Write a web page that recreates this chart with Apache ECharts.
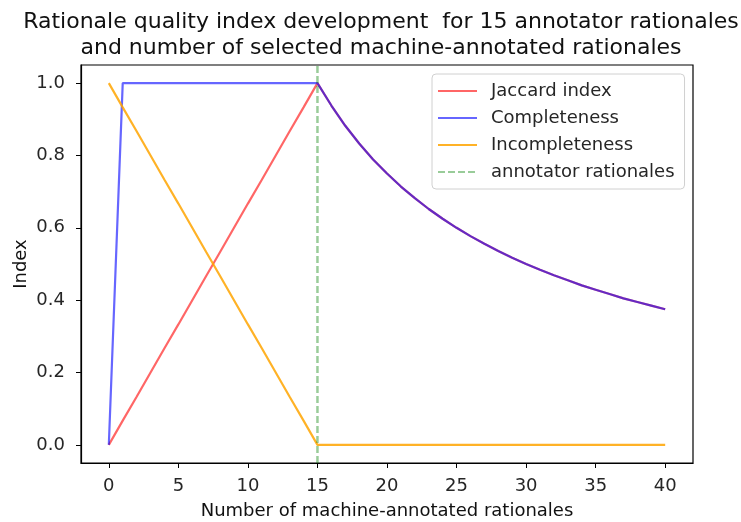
<!DOCTYPE html>
<html>
<head>
<meta charset="utf-8">
<script src="https://cdn.jsdelivr.net/npm/echarts@6/dist/echarts.min.js"></script>
<style>html,body{margin:0;padding:0;background:#fff}#c{width:741px;height:522px}</style>
</head>
<body>
<div id="c"></div>
<script>
var xValues = [0,1,2,3,4,5,6,7,8,9,10,11,12,13,14,15,16,17,18,19,20,21,22,23,24,25,26,27,28,29,30,31,32,33,34,35,36,37,38,39,40];
var jaccard = [0,0.067,0.133,0.2,0.267,0.333,0.4,0.467,0.533,0.6,0.667,0.733,0.8,0.867,0.933,1.0,
  0.938,0.882,0.833,0.789,0.75,0.714,0.682,0.652,0.625,0.6,0.577,0.556,0.536,0.517,0.5,0.484,0.469,0.455,0.441,0.429,0.417,0.405,0.395,0.385,0.375];
var completeness = [0,1,1,1,1,1,1,1,1,1,1,1,1,1,1,1,
  0.938,0.882,0.833,0.789,0.75,0.714,0.682,0.652,0.625,0.6,0.577,0.556,0.536,0.517,0.5,0.484,0.469,0.455,0.441,0.429,0.417,0.405,0.395,0.385,0.375];
var incompleteness = [1,0.933,0.867,0.8,0.733,0.667,0.6,0.533,0.467,0.4,0.333,0.267,0.2,0.133,0.067,0,
  0,0,0,0,0,0,0,0,0,0,0,0,0,0,0,0,0,0,0,0,0,0,0,0,0];
var annotatorCount = 15;
var xTicks = [0,5,10,15,20,25,30,35,40];
var yTicks = [0,0.2,0.4,0.6,0.8,1.0];
var seriesNames = ['Jaccard index','Completeness','Incompleteness','annotator rationales'];
var titleText = 'Rationale quality index development  for 15 annotator rationales\nand number of selected machine-annotated rationales';
var xName = 'Number of machine-annotated rationales';
var yName = 'Index';

function pairs(xs, ys){ return xs.map(function(x,i){ return [x, ys[i]]; }); }

var chart = echarts.init(document.getElementById('c'));
var font = 'DejaVu Sans';
var lineSeries = function(name, data, color){
  return {name:name, type:'line', data:pairs(xValues,data), showSymbol:false, symbol:'none',
    lineStyle:{color:color, width:2.2}, itemStyle:{color:color}, animation:false, z:2};
};
chart.setOption({
  animation:false,
  title:{text:titleText, left:376, top:4, textAlign:'center',
    textStyle:{fontFamily:font, fontSize:22, fontWeight:'normal', color:'#111', lineHeight:26}},
  grid:{left:81, top:65, right:48, bottom:59, show:true, borderColor:'#000', borderWidth:1.2, backgroundColor:'transparent',
    outerBoundsMode:'none', containLabel:false},
  legend:{orient:'vertical', left:432, top:74, itemWidth:39, itemHeight:18, itemGap:9,
    padding:[8,10,8,5], borderColor:'#d0d0d0', borderWidth:1, borderRadius:4,
    itemStyle:{opacity:0},
    textStyle:{fontFamily:font, fontSize:18, color:'#262626', padding:[0,0,0,9]},
    data:seriesNames},
  xAxis:{type:'value', min:-2, max:42, name:xName, nameLocation:'middle', nameGap:39, nameMoveOverlap:false,
    nameTextStyle:{fontFamily:font, fontSize:18, color:'#111'},
    axisLine:{onZero:false, lineStyle:{color:'#000', width:1.2}},
    axisTick:{show:true, length:5, lineStyle:{color:'#000'}, customValues:xTicks},
    axisLabel:{fontFamily:font, fontSize:18, color:'#262626', margin:14, customValues:xTicks},
    splitLine:{show:false}},
  yAxis:{type:'value', min:-0.05, max:1.05, name:yName, nameLocation:'middle', nameGap:51, nameRotate:90, nameMoveOverlap:false,
    nameTextStyle:{fontFamily:font, fontSize:18, color:'#111'},
    axisLine:{show:true, onZero:false, lineStyle:{color:'#000', width:1.2}},
    axisTick:{show:true, length:5, lineStyle:{color:'#000'}, customValues:yTicks},
    axisLabel:{fontFamily:font, fontSize:18, color:'#262626', margin:16, customValues:yTicks,
      formatter:function(v){ return v.toFixed(1); }},
    splitLine:{show:false}},
  series:[
    lineSeries(seriesNames[0], jaccard, 'rgba(255,0,0,0.6)'),
    lineSeries(seriesNames[1], completeness, 'rgba(0,0,255,0.6)'),
    lineSeries(seriesNames[2], incompleteness, 'rgba(255,165,0,0.85)'),
    {name:seriesNames[3], type:'line', data:[[annotatorCount,-0.05],[annotatorCount,1.05]], showSymbol:false, symbol:'none',
      lineStyle:{color:'rgba(0,128,0,0.4)', width:2.5, type:[7,3]}, itemStyle:{color:'rgba(0,128,0,0.4)'}, z:3}
  ]
});
</script>
</body>
</html>
